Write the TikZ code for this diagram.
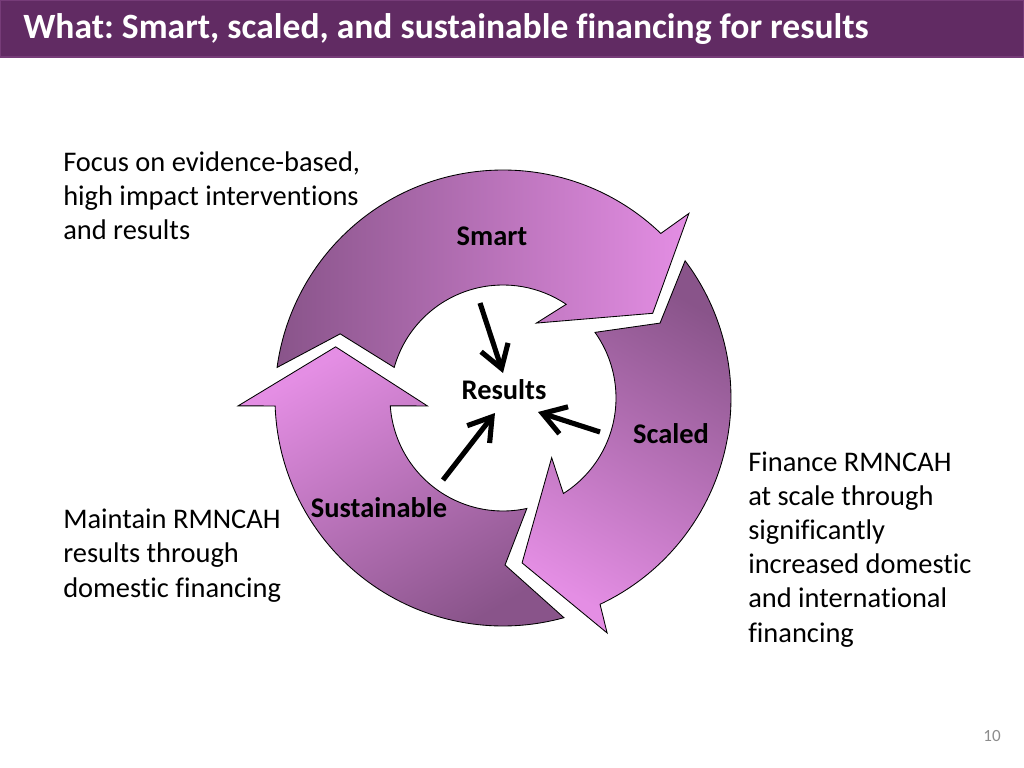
\documentclass[tikz,border=0pt]{standalone}
\usepackage{fontspec}
\setmainfont{Carlito}[Ligatures={NoCommon}]
\usepackage{tikz}
\usetikzlibrary{arrows.meta}
\definecolor{barpurple}{RGB}{97,43,99}
\definecolor{baredge}{RGB}{118,60,120}
\definecolor{ringdark}{RGB}{137,84,138}
\definecolor{ringlight}{RGB}{228,142,228}
\definecolor{pagegray}{RGB}{140,140,140}
\frenchspacing

\begin{document}
\begin{tikzpicture}[
  x=0.703125pt, y=-0.703125pt,
  ring/.style={draw=black, line width=0.6pt, top color=ringdark, bottom color=ringlight},
  body/.style={anchor=base west, align=left, font=\fontsize{20}{24}\selectfont, inner sep=0pt},
  lbl/.style={anchor=base, font=\bfseries\fontsize{20}{24}\selectfont, inner sep=0pt},
  arr/.style={-{Straight Barb[length=5.5mm, width=7mm]}, line width=3.6pt}
]
\useasboundingbox (0,0) rectangle (1024,768);
\fill[white] (0,0) rectangle (1024,768);
\draw[fill=barpurple, draw=baredge, line width=1pt] (0,0) rectangle (1024,57);
\node[anchor=base west, text=white, font=\bfseries\fontsize{25}{30}\selectfont, inner sep=0pt] (title) at (23,39) {What: Smart, scaled, and sustainable financing for results};

\begin{scope}[shift={(503,398)}, y=0.703125pt]
\draw[ring, shading angle=90] (172.3:228) -- (158.5:175) -- (164.3:113) arc[start angle=164.3, end angle=56, radius=113] -- (66:82) -- (29.5:172) -- (44.8:262) -- (46.2:228) arc[start angle=46.2, end angle=172.3, radius=228] -- cycle;
\draw[ring, shading angle=-30] (37:228) -- (25.5:174) -- (35.5:113) arc[start angle=35.5, end angle=-57.7, radius=113] -- (-50.8:77) -- (-83.4:166) -- (-66.1:257) -- (-64.8:228) arc[start angle=-64.8, end angle=37, radius=228] -- cycle;
\draw[ring, shading angle=-150] (-74.5:228) -- (-89.3:167) -- (-77.8:113) arc[start angle=-77.8, end angle=-176, radius=113] -- (-174:76) -- (-197:175) -- (-178.3:265) -- (-178:228) arc[start angle=-178, end angle=-74.5, radius=228] -- cycle;
\end{scope}

\node[lbl] (smart) at (492,246) {Smart};
\node[lbl] (res) at (504,399) {Results};
\node[lbl] (scaled) at (671,443) {Scaled};
\node[lbl] (sust) at (379,517) {Sustainable};

\coordinate (s1) at (480,303);
\coordinate (t1) at (503,373);
\coordinate (s2) at (600,432);
\coordinate (t2) at (538,412);
\coordinate (s3) at (443,480);
\coordinate (t3) at (495,413);
\draw[arr] (s1) -- (t1);
\draw[arr] (s2) -- (t2);
\draw[arr] (s3) -- (t3);

\node[body] (focus) at (63,240) {Focus on evidence-based,\\high impact interventions\\and results};
\node[body] (maintain) at (63,597) {Maintain RMNCAH\\results through\\domestic financing};
\node[body] (finance) at (748,642) {Finance RMNCAH\\at scale through\\significantly\\increased domestic\\and international\\financing};
\node[anchor=base east, text=pagegray, font=\fontsize{12}{14}\selectfont, inner sep=0pt] (page) at (1001,741) {10};
\end{tikzpicture}
\end{document}
